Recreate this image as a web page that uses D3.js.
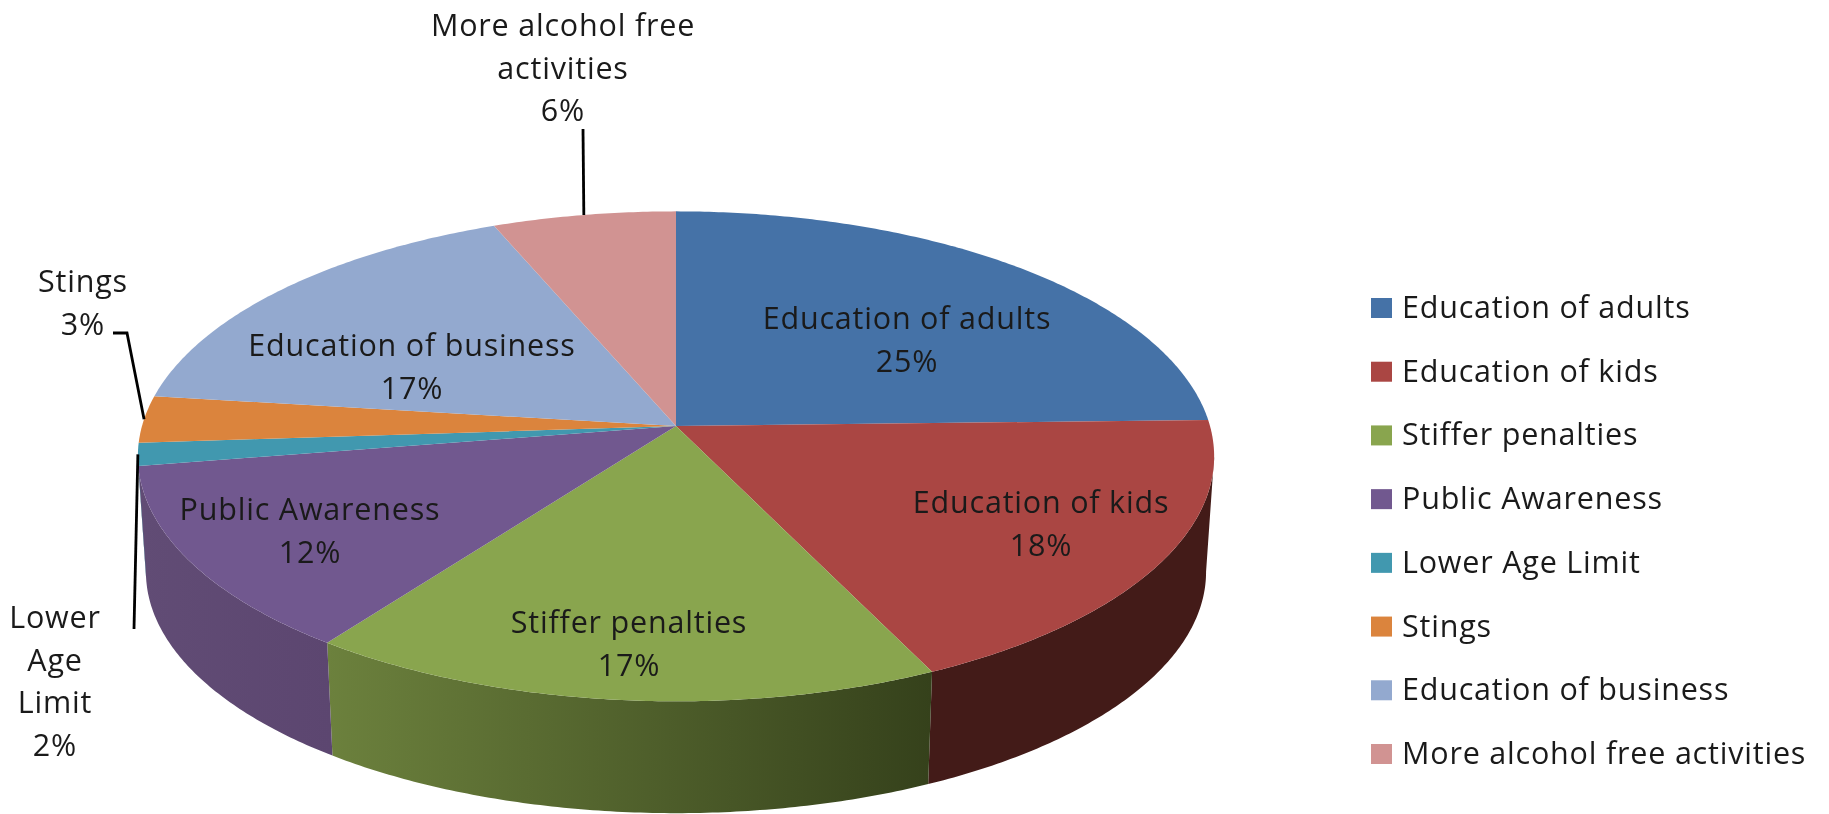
<!DOCTYPE html>
<html>
<head>
<meta charset="utf-8">
<script src="https://cdn.jsdelivr.net/npm/d3@7/dist/d3.min.js"></script>
<style>
  html, body { margin: 0; padding: 0; background: #fff; }
  svg { display: block; filter: blur(0.5px); }
  text { font-family: "Open Sans", Lato, sans-serif; font-size: 30.5px; letter-spacing: 0.8px; fill: #1a1a1a; }
</style>
</head>
<body>
<svg width="1829" height="814"></svg>
<script>
const categories = ["Education of adults", "Education of kids", "Stiffer penalties", "Public Awareness",
  "Lower Age Limit", "Stings", "Education of business", "More alcohol free activities"];
const shares = [24.6, 18.4, 17.0, 12.4, 1.5, 3.1, 16.8, 6.2];
const colors = ["#4572a7", "#aa4643", "#89a54e", "#71588f", "#4198af", "#db843d", "#93a9cf", "#d19392"];

// side wall shades, left to right
const wallColors = [
  ["#2a4465", "#2a4465"],
  ["#431b18", "#431b18"],
  ["#6c813d", "#35411b"],
  ["#614c75", "#5c4670"],
  ["#357d90", "#357d90"],
  ["#b56d32", "#b56d32"],
  ["#7a8dac", "#7a8dac"],
  ["#ad7a79", "#ad7a79"]
];

// label lines per category, x is the centre of the text
const labelLayout = [
  {lines: ["Education of adults"], x: 907, y: 329},
  {lines: ["Education of kids"], x: 1041, y: 513},
  {lines: ["Stiffer penalties"], x: 629, y: 633},
  {lines: ["Public Awareness"], x: 310, y: 520},
  {lines: ["Lower", "Age", "Limit"], x: 55, y: 628},
  {lines: ["Stings"], x: 83, y: 292},
  {lines: ["Education of business"], x: 412, y: 356},
  {lines: ["More alcohol free", "activities"], x: 563, y: 36}
];
const lineGap = 42.6;

// leader lines: points away from the pie, the last point comes from the slice
const leaders = {
  4: [[134, 629]],
  5: [[113, 333], [127, 333]],
  7: [[583, 129]]
};

const svg = d3.select("svg");

// perspective disc
const cx = 676, apexY = 426;
const A = 534, B = 241.2, p = 0.1238;
const depthY = 116, depthScale = 0.985;

function project(angle, r = 1, wall = false) {
  const u = Math.sin(angle) * r, v = -Math.cos(angle) * r;
  const k = 1 / (1 - p * v);
  const s = wall ? depthScale : 1;
  return [cx + s * A * u * k, apexY + (wall ? depthY : 0) + s * B * v * k];
}

const pie = d3.pie().sort(null).startAngle(0).endAngle(2 * Math.PI);
const arcs = pie(shares);
const line = d3.line();

function sample(a0, a1) {
  const n = Math.max(2, Math.ceil((a1 - a0) / 0.01));
  return d3.range(n + 1).map(i => a0 + (a1 - a0) * i / n);
}

// only the part of the rim facing the viewer has a wall
const wallFrom = Math.PI / 2 + Math.asin(p), wallTo = 3 * Math.PI / 2 - Math.asin(p);

const defs = svg.append("defs");
const walls = svg.append("g");

arcs.forEach((d, i) => {
  const a0 = Math.max(d.startAngle, wallFrom), a1 = Math.min(d.endAngle, wallTo);
  if (a1 <= a0) return;
  const top = sample(a0, a1).map(a => project(a));
  const bottom = sample(a0, a1).map(a => project(a, 1, true)).reverse();
  const xs = top.concat(bottom).map(q => q[0]);

  const grad = defs.append("linearGradient")
    .attr("id", "wall" + i)
    .attr("gradientUnits", "userSpaceOnUse")
    .attr("x1", d3.min(xs)).attr("x2", d3.max(xs))
    .attr("y1", 0).attr("y2", 0);
  grad.append("stop").attr("offset", 0).attr("stop-color", wallColors[i][0]);
  grad.append("stop").attr("offset", 1).attr("stop-color", wallColors[i][1]);

  walls.append("path")
    .attr("d", line(top.concat(bottom)) + "Z")
    .attr("fill", `url(#wall${i})`);
});

// top face
svg.append("g").selectAll("path")
  .data(arcs)
  .enter()
  .append("path")
  .attr("d", d => line([[cx, apexY]].concat(sample(d.startAngle, d.endAngle).map(a => project(a)))) + "Z")
  .attr("fill", (d, i) => colors[i]);

// leader lines
Object.keys(leaders).forEach(k => {
  const d = arcs[k];
  const end = project((d.startAngle + d.endAngle) / 2);
  svg.append("path")
    .attr("d", line(leaders[k].concat([end])))
    .attr("fill", "none")
    .attr("stroke", "#000")
    .attr("stroke-width", 2.8);
});

// data labels
labelLayout.forEach((l, i) => {
  const pct = Math.round(shares[i] / d3.sum(shares) * 100) + "%";
  l.lines.concat([pct]).forEach((t, j) => {
    svg.append("text")
      .attr("x", l.x)
      .attr("y", l.y + j * lineGap)
      .attr("text-anchor", "middle")
      .text(t);
  });
});

// legend
const legendY = d3.scalePoint().domain(categories).range([308, 754]);
const legend = svg.append("g").selectAll("g")
  .data(categories)
  .enter()
  .append("g")
  .attr("transform", d => `translate(1371, ${legendY(d)})`);
legend.append("rect")
  .attr("y", -10)
  .attr("width", 21)
  .attr("height", 20)
  .attr("fill", (d, i) => colors[i]);
legend.append("text")
  .attr("x", 31)
  .attr("y", 10)
  .text(d => d);
</script>
</body>
</html>
